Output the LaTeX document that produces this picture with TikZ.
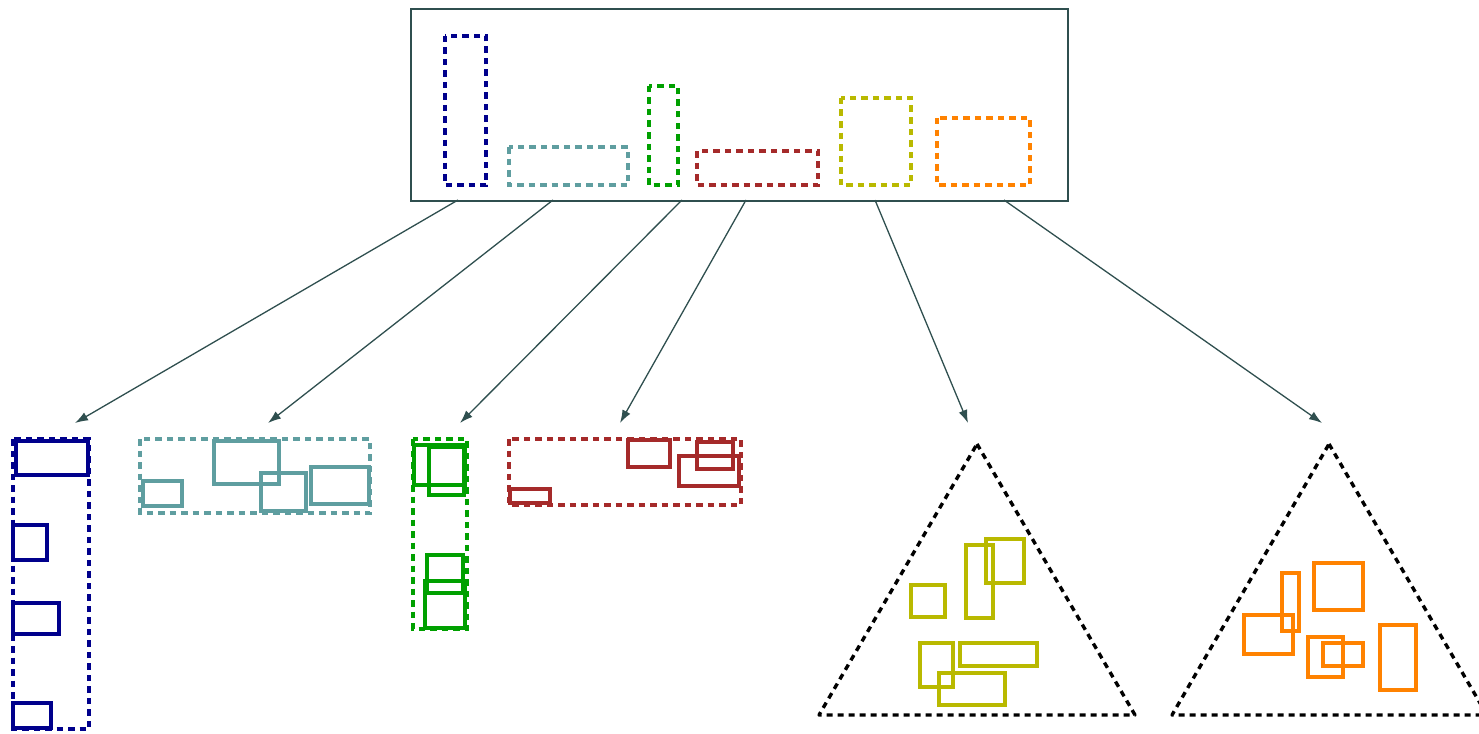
\documentclass[tikz,border=0pt]{standalone}
\usetikzlibrary{arrows.meta}
\definecolor{slate}{RGB}{47,79,79}
\definecolor{cblue}{RGB}{0,0,140}
\definecolor{cteal}{RGB}{95,158,160}
\definecolor{cgreen}{RGB}{0,160,0}
\definecolor{cred}{RGB}{165,42,42}
\definecolor{colive}{RGB}{185,185,0}
\definecolor{corange}{RGB}{255,130,0}
\begin{document}
\begin{tikzpicture}[x=1pt,y=-1pt,
  dbox/.style={line width=3.4pt, dash pattern=on 6.5pt off 5pt},
  sbox/.style={line width=3.4pt},
  tri/.style={draw=black, line width=3.4pt, dash pattern=on 6pt off 5pt, line join=round},
  conn/.style={draw=slate, line width=1.3pt, -{Latex[length=13pt,width=9pt]}}]
\useasboundingbox (0,0) rectangle (1479,733);
% top container
\node[draw=slate, line width=2pt, minimum width=657pt, minimum height=192pt, inner sep=0pt, anchor=north west] (top) at (410,8) {};
\draw[dbox, cblue]   (445,36)  rectangle (486,185);
\draw[dbox, cteal]   (509,147) rectangle (628,185);
\draw[dbox, cgreen]  (649,86)  rectangle (678,185);
\draw[dbox, cred]    (697,151) rectangle (818,185);
\draw[dbox, colive]  (841,98)  rectangle (911,185);
\draw[dbox, corange] (937,118) rectangle (1030,185);
% arrow start/end coordinates
\coordinate (s1) at (458,200); \coordinate (t1) at (75,423);
\coordinate (s2) at (553,200); \coordinate (t2) at (268,423);
\coordinate (s3) at (682,200); \coordinate (t3) at (460,423);
\coordinate (s4) at (746,200); \coordinate (t4) at (620,423);
\coordinate (s5) at (875,200); \coordinate (t5) at (968,423);
\coordinate (s6) at (1004,200); \coordinate (t6) at (1322,423);
\foreach \i in {1,...,6} \draw[conn] (s\i) -- (t\i);
% blue group
\draw[dbox, cblue] (13,439) rectangle (89,729);
\draw[sbox, cblue] (16,441) rectangle (88,475);
\draw[sbox, cblue] (13,525) rectangle (47,560);
\draw[sbox, cblue] (13,603) rectangle (59,634);
\draw[sbox, cblue] (13,703) rectangle (51,728);
% teal group
\draw[dbox, cteal] (140,439) rectangle (370,513);
\draw[sbox, cteal] (143,481) rectangle (182,506);
\draw[sbox, cteal] (214,441) rectangle (279,484);
\draw[sbox, cteal] (261,473) rectangle (306,511);
\draw[sbox, cteal] (311,467) rectangle (369,504);
% green group
\draw[dbox, cgreen] (413,439) rectangle (467,629);
\draw[sbox, cgreen] (414,445) rectangle (465,485);
\draw[sbox, cgreen] (429,447) rectangle (464,495);
\draw[sbox, cgreen] (427,555) rectangle (463,593);
\draw[sbox, cgreen] (425,581) rectangle (465,628);
% red group
\draw[dbox, cred] (509,439) rectangle (741,505);
\draw[sbox, cred] (628,440) rectangle (670,467);
\draw[sbox, cred] (679,456) rectangle (739,486);
\draw[sbox, cred] (697,442) rectangle (733,469);
\draw[sbox, cred] (510,489) rectangle (550,503);
% olive triangle
\draw[tri] (977,444) -- (1135,715) -- (819,715) -- cycle;
\draw[sbox, colive] (911,585) rectangle (945,617);
\draw[sbox, colive] (966,545) rectangle (993,618);
\draw[sbox, colive] (986,539) rectangle (1024,583);
\draw[sbox, colive] (920,643) rectangle (953,687);
\draw[sbox, colive] (960,643) rectangle (1037,666);
\draw[sbox, colive] (939,673) rectangle (1005,705);
% orange triangle
\draw[tri] (1329,444) -- (1487,715) -- (1172,715) -- cycle;
\draw[sbox, corange] (1282,573) rectangle (1299,631);
\draw[sbox, corange] (1314,563) rectangle (1363,610);
\draw[sbox, corange] (1244,615) rectangle (1293,654);
\draw[sbox, corange] (1308,637) rectangle (1343,677);
\draw[sbox, corange] (1323,643) rectangle (1363,666);
\draw[sbox, corange] (1380,625) rectangle (1416,690);
\end{tikzpicture}
\end{document}
